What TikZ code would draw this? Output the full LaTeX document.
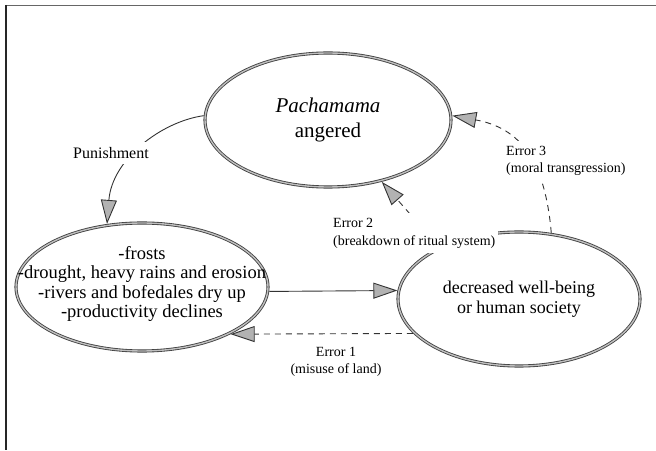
\documentclass[tikz,border=0pt]{standalone}
\usepackage{fontspec}
\setmainfont{Liberation Serif}
\usetikzlibrary{shapes.geometric,arrows.meta}
\begin{document}
\begin{tikzpicture}[x=1pt,y=1pt,
  ring/.style={ellipse,draw=black!75,double=gray!50,double distance=1.4pt,line width=0.85pt,inner sep=0pt,outer sep=1.6pt},
  conn/.style={draw=black!80,line width=0.9pt,-{Triangle[length=24pt,width=16pt,fill=gray!60]}},
  dashconn/.style={conn,dash pattern=on 6pt off 5pt},
  lbl/.style={fill=white,inner xsep=3pt,inner ysep=5pt,font=\fontsize{14}{17}\selectfont}
]
\useasboundingbox (0,0) rectangle (656,450);
% frame (top and left edges)
\draw[black!60,line width=1.5pt] (656,444.5) -- (5.5,444.5);
\draw[black!85,line width=2pt] (5.5,445.2) -- (5.5,0);

% ellipses
\node[ring,minimum width=246pt,minimum height=134pt] (T) at (328,330) {};
\node[ring,minimum width=252pt,minimum height=128pt] (L) at (142,163) {};
\node[ring,minimum width=242pt,minimum height=134pt] (R) at (519,151) {};

% ellipse texts
\node[align=center,font=\fontsize{21}{25}\selectfont] (Tt) at (T.center) {\textit{Pachamama}\\angered};
\node[align=center,font=\fontsize{18.5}{19.3}\selectfont] (Lt) at ([yshift=3pt]L.center) {-frosts\\-drought, heavy rains and erosion\\-rivers and bofedales dry up\\-productivity declines};
\node[align=center,font=\fontsize{18}{20}\selectfont] (Rt) at (R.center) {decreased well-being\\or human society};

% connectors
\draw[conn] (T.178) .. controls (160,328) and (112,290) .. (L.119);
\draw[conn] (L.-2.3) -- (R.176.7);
\draw[dashconn] (R.198.8) -- (L.-28.8);
\draw[dashconn] (R.147.2) -- (T.311);
\draw[dashconn] (R.64.4) .. controls (545,290) and (520,322) .. (T.2);

% labels
\node[lbl,font=\fontsize{16}{18}\selectfont] (pun) at (111,297) {Punishment};
\node[lbl,align=center] (e1) at (336,88.5) {Error 1\\(misuse of land)};
\node[lbl,align=left,anchor=west,font=\fontsize{14}{18}\selectfont] (e2) at (330,217) {Error 2\\(breakdown of ritual system)};
\node[lbl,align=left,anchor=west] (e3) at (503,289.5) {Error 3\\(moral transgression)};
\end{tikzpicture}
\end{document}
